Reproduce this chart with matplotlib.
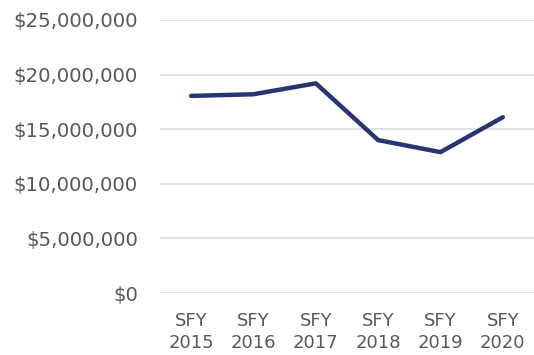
import matplotlib
matplotlib.use("Agg")
import matplotlib.pyplot as plt
from matplotlib.ticker import FuncFormatter

years = ["SFY\n2015", "SFY\n2016", "SFY\n2017", "SFY\n2018", "SFY\n2019", "SFY\n2020"]
amounts = [18_050_000, 18_200_000, 19_200_000, 14_000_000, 12_900_000, 16_100_000]
y_ticks = [0, 5_000_000, 10_000_000, 15_000_000, 20_000_000, 25_000_000]

plt.rcParams['font.family'] = ['DejaVu Sans']

fig = plt.figure(figsize=(5.34, 3.55), dpi=100)
ax = fig.add_axes([160/534, 1 - 293/355, 374/534, (293 - 20)/355])

x = list(range(len(years)))
ax.plot(x, amounts, color="#263672", linewidth=3.2, solid_capstyle="round",
        solid_joinstyle="round", zorder=3)

ax.set_xlim(-0.5, len(years) - 0.5)
ax.set_ylim(0, 25_000_000)
ax.set_yticks(y_ticks)
ax.yaxis.set_major_formatter(FuncFormatter(lambda v, p: f"${v:,.0f}"))
ax.set_xticks(x)
ax.set_xticklabels(years)

ax.grid(axis="y", color="#d9d9d9", linewidth=1.1)
ax.set_axisbelow(True)
for s in ax.spines.values():
    s.set_visible(False)
ax.tick_params(axis="both", length=0, labelcolor="#595959")
ax.tick_params(axis="y", pad=16, labelsize=14.2)
ax.tick_params(axis="x", pad=14, labelsize=13)
for lbl in ax.get_xticklabels():
    lbl.set_linespacing(1.22)

fig.savefig("out.png", dpi=100)
